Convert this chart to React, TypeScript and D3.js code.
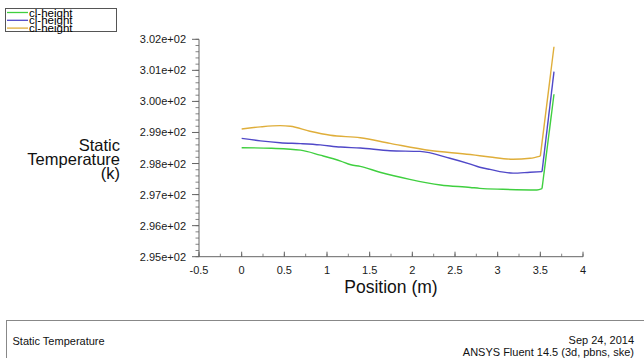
import React from "react";
import * as d3 from "d3";

// static temperature along the centreline, three cl-height series
const seriesNames = ["cl-height", "cl-height", "cl-height"];
const seriesColors = ["#3fcf3f", "#5048c8", "#dfae3a"];

const greenX = [0, 0.35, 0.69, 0.92, 1.16, 1.28, 1.39, 1.62, 1.97, 2.33, 2.68, 2.79, 3.06, 3.46, 3.52, 3.66];
const greenY = [298.51, 298.49, 298.43, 298.27, 298.08, 297.96, 297.91, 297.72, 297.49, 297.31, 297.23, 297.2, 297.17, 297.15, 297.19, 300.23];

const blueX = [0, 0.22, 0.45, 0.69, 0.92, 1.16, 1.39, 1.74, 2.09, 2.44, 2.68, 2.79, 2.91, 3.18, 3.38, 3.52, 3.66];
const blueY = [298.81, 298.73, 298.67, 298.64, 298.6, 298.53, 298.5, 298.41, 298.39, 298.17, 297.98, 297.88, 297.81, 297.69, 297.72, 297.74, 300.96];

const yellowX = [0, 0.22, 0.45, 0.57, 0.8, 1.04, 1.39, 1.74, 2.21, 2.68, 2.79, 2.91, 3.18, 3.38, 3.5, 3.66];
const yellowY = [299.11, 299.18, 299.22, 299.2, 299.04, 298.91, 298.83, 298.65, 298.42, 298.29, 298.25, 298.21, 298.14, 298.17, 298.24, 301.76];

const xTicks = [-0.5, 0, 0.5, 1, 1.5, 2, 2.5, 3, 3.5, 4];
const xTickLabels = ["-0.5", "0", "0.5", "1", "1.5", "2", "2.5", "3", "3.5", "4"];
const yTicks = [295, 296, 297, 298, 299, 300, 301, 302];
const yTickLabels = ["2.95e+02", "2.96e+02", "2.97e+02", "2.98e+02", "2.99e+02", "3.00e+02", "3.01e+02", "3.02e+02"];

const W = 644;
const H = 358;
const font = "'Liberation Sans', Arial, sans-serif";

export default function App() {
  const x = d3.scaleLinear().domain([-0.5, 4]).range([199, 583]);
  const y = d3.scaleLinear().domain([295, 302]).range([256.7, 39.3]);

  const series = [
    { xs: greenX, ys: greenY },
    { xs: blueX, ys: blueY },
    { xs: yellowX, ys: yellowY },
  ];

  const line = d3
    .line<[number, number]>()
    .x((d) => x(d[0]))
    .y((d) => y(d[1]))
    .curve(d3.curveMonotoneX);

  const straight = d3
    .line<[number, number]>()
    .x((d) => x(d[0]))
    .y((d) => y(d[1]));

  const xMinor = d3.range(-0.5, 4.0001, 0.25);
  const yMinor = d3.range(295, 302.0001, 0.2);

  const axisColor = "#666";

  return (
    <div style={{ position: "absolute", left: 0, top: 0 }}>
      <svg width={W} height={H} style={{ display: "block", background: "#fff" }}>
        {/* legend */}
        <rect x={5.5} y={8.5} width={111} height={23} fill="#fff" stroke="#555" strokeWidth={1} />
        {seriesNames.map((name, i) => (
          <g key={i}>
            <line x1={7} x2={28} y1={12.5 + i * 7.8} y2={12.5 + i * 7.8} stroke={seriesColors[i]} strokeWidth={1.3} />
            <text x={29} y={16.5 + i * 7.8} fontFamily={font} fontSize={11.5} fill="#000">
              {name}
            </text>
          </g>
        ))}

        {/* y axis */}
        <line x1={x(-0.5)} x2={x(-0.5)} y1={y(302)} y2={y(295)} stroke={axisColor} strokeWidth={1} />
        {yMinor.map((v, i) => (
          <line key={"ym" + i} x1={x(-0.5) - 3.5} x2={x(-0.5)} y1={y(v)} y2={y(v)} stroke={axisColor} strokeWidth={0.8} />
        ))}
        {yTicks.map((v, i) => (
          <g key={"y" + i}>
            <line x1={x(-0.5) - 7} x2={x(-0.5)} y1={y(v)} y2={y(v)} stroke={axisColor} strokeWidth={1} />
            <text x={186} y={y(v) + 4} textAnchor="end" fontFamily={font} fontSize={11} fill="#1a1a1a">
              {yTickLabels[i]}
            </text>
          </g>
        ))}

        {/* x axis */}
        <line x1={x(-0.5)} x2={x(4)} y1={y(295)} y2={y(295)} stroke={axisColor} strokeWidth={1} />
        {xMinor.map((v, i) => (
          <line key={"xm" + i} x1={x(v)} x2={x(v)} y1={y(295) - 3} y2={y(295)} stroke={axisColor} strokeWidth={0.8} />
        ))}
        {xTicks.map((v, i) => (
          <g key={"x" + i}>
            <line x1={x(v)} x2={x(v)} y1={y(295) - 5} y2={y(295)} stroke={axisColor} strokeWidth={1} />
            <text x={x(v)} y={274} textAnchor="middle" fontFamily={font} fontSize={11} fill="#1a1a1a">
              {xTickLabels[i]}
            </text>
          </g>
        ))}

        {/* axis titles */}
        <text x={391} y={293} textAnchor="middle" fontFamily={font} fontSize={17.5} fill="#111">
          Position (m)
        </text>
        <text textAnchor="end" fontFamily={font} fontSize={16.5} fill="#111">
          <tspan x={120} y={151}>Static</tspan>
          <tspan x={120} y={165}>Temperature</tspan>
          <tspan x={120} y={179}>(k)</tspan>
        </text>

        {/* series */}
        {series.map((s, i) => {
          const pts: [number, number][] = s.xs.map((v, j) => [v, s.ys[j]]);
          const body = pts.slice(0, pts.length - 1);
          const tail = pts.slice(pts.length - 2);
          return (
            <g key={"s" + i}>
              <path d={line(body) || ""} fill="none" stroke={seriesColors[i]} strokeWidth={1.4} />
              <path d={straight(tail) || ""} fill="none" stroke={seriesColors[i]} strokeWidth={1.4} />
            </g>
          );
        })}

        {/* footer box */}
        <rect x={6.5} y={320.5} width={660} height={50} fill="#fff" stroke="#888" strokeWidth={1} />
        <text x={12.5} y={345} fontFamily={font} fontSize={11} fill="#111">
          Static Temperature
        </text>
        <text x={634} y={344} textAnchor="end" fontFamily={font} fontSize={11} fill="#111">
          Sep 24, 2014
        </text>
        <text x={634} y={356} textAnchor="end" fontFamily={font} fontSize={11} fill="#111">
          ANSYS Fluent 14.5 (3d, pbns, ske)
        </text>
      </svg>
    </div>
  );
}
